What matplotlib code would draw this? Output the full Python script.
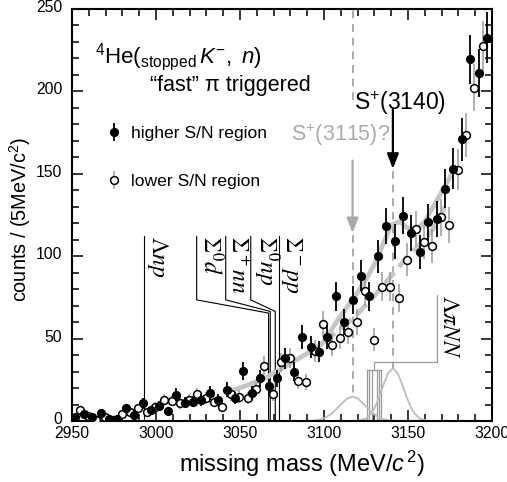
import matplotlib
matplotlib.use("Agg")
import matplotlib.pyplot as plt
import matplotlib.transforms as mtransforms
from matplotlib.ticker import MultipleLocator

plt.rcParams['font.family'] = ['Liberation Sans', 'DejaVu Sans']
plt.rcParams['mathtext.fontset'] = 'custom'
plt.rcParams['mathtext.rm'] = 'Liberation Sans'
plt.rcParams['mathtext.it'] = 'Liberation Sans:italic'
plt.rcParams['mathtext.bf'] = 'Liberation Sans:bold'

# ---------------- data ----------------
mass_hi = [2952, 2957, 2962, 2967, 2972, 2977, 2982, 2987, 2992, 2997,
           3002, 3007, 3012, 3017, 3022, 3027, 3032, 3037, 3042, 3047,
           3052, 3057, 3062, 3067, 3072, 3077, 3082, 3087, 3092, 3097,
           3102, 3107, 3112, 3117, 3122, 3127, 3132, 3137, 3142, 3147,
           3152, 3157, 3162, 3167, 3172, 3177, 3182, 3187, 3192, 3197]
counts_hi = [2.6, 4, 2.4, 5, 1, 1, 7.7, 3.6, 10.7, 6.7,
             9, 6, 16, 11, 11.7, 12.8, 17, 12.8, 19, 14,
             30.4, 17, 26, 21, 26, 38, 30, 51, 45, 42,
             51, 75.6, 60, 73.6, 88, 75.6, 100, 118.5, 109, 124.6,
             114, 102.5, 120.5, 122.6, 141, 153, 171, 219.5, 211, 232.6]
err_hi = [1.6, 2.0, 1.5, 2.2, 1.0, 1.0, 2.8, 1.9, 3.3, 2.6,
          3.0, 2.4, 4.0, 3.3, 3.4, 3.6, 4.1, 3.6, 4.4, 3.7,
          5.5, 4.1, 5.1, 4.6, 5.1, 6.2, 5.5, 7.1, 6.7, 6.5,
          7.1, 8.7, 7.7, 8.6, 9.4, 8.7, 10.0, 10.9, 10.4, 11.2,
          10.7, 10.1, 11.0, 11.1, 11.9, 12.4, 13.1, 14.8, 14.5, 15.3]

mass_lo = [2954.5, 2959.5, 2964.5, 2969.5, 2974.5, 2979.5, 2984.5, 2989.5, 2994.5, 2999.5,
           3004.5, 3009.5, 3014.5, 3019.5, 3024.5, 3029.5, 3034.5, 3039.5, 3044.5, 3049.5,
           3054.5, 3059.5, 3064.5, 3069.5, 3074.5, 3079.5, 3084.5, 3089.5, 3094.5, 3099.5,
           3104.5, 3109.5, 3114.5, 3119.5, 3124.5, 3129.5, 3134.5, 3139.5, 3144.5, 3149.5,
           3154.5, 3159.5, 3164.5, 3169.5, 3174.5, 3179.5, 3184.5, 3189.5, 3194.5]
counts_lo = [6.7, 3, 0.6, 2.6, 0.5, 4, 5.6, 7.7, 5.6, 8.7,
             12.8, 12.3, 10.8, 12.8, 16.2, 13.8, 11.7, 8.7, 16.2, 14.8,
             13.8, 19.5, 33.6, 16.2, 35.5, 38.1, 24.3, 23.9, 42.5, 58.8,
             46.2, 50.6, 53.9, 60.2, 78.6, 49.2, 81.6, 81.6, 74.5, 97.9,
             116.5, 108.4, 106.4, 123.6, 119.1, 152.6, 173.4, 202.2, 227.5]
err_lo = [2.6, 1.7, 0.8, 1.6, 0.7, 2.0, 2.4, 2.8, 2.4, 2.9,
          3.6, 3.5, 3.3, 3.6, 4.0, 3.7, 3.4, 2.9, 4.0, 3.8,
          3.7, 4.4, 5.8, 4.0, 6.0, 6.2, 4.9, 4.9, 6.5, 7.7,
          6.8, 7.1, 7.3, 7.8, 8.9, 7.0, 9.0, 9.0, 8.6, 9.9,
          10.8, 10.4, 10.3, 11.1, 10.9, 12.4, 13.2, 14.2, 15.1]

# fit curves
fit_hi_x = [3044, 3055, 3065, 3075, 3085, 3095, 3100, 3108, 3115, 3120, 3125, 3130,
            3135, 3140, 3145, 3150, 3155, 3160, 3165, 3170, 3175, 3178]
fit_hi_y = [18, 22, 26, 32, 38, 44, 48, 61, 71, 78, 86, 95,
            107, 119, 121, 117, 116, 121, 130, 139, 148, 154]
fit_lo_x = [3100, 3110, 3120, 3130, 3140, 3150, 3160, 3166, 3172]
fit_lo_y = [48, 56, 65, 76, 88, 100, 110, 118, 130]

# peak components
g1_x = [3092, 3095, 3100, 3105, 3110, 3114, 3117, 3120, 3125, 3130, 3135, 3140, 3143]
g1_y = [0.1, 0.4, 1.6, 4.8, 10.1, 13.8, 14.8, 13.8, 9.0, 3.9, 1.2, 0.3, 0.1]
g2_x = [3120, 3125, 3128, 3130, 3133, 3135, 3138, 3141, 3144, 3147, 3149, 3152, 3154, 3157, 3162]
g2_y = [0.1, 1.5, 4.5, 7.6, 15.0, 20.9, 28.8, 32.0, 28.8, 20.9, 15.0, 7.6, 4.5, 1.5, 0.1]

# thresholds
thr_labels = [r'$\Sigma^0d$', r'$\Sigma^+nn$', r'$\Sigma^0np$', r'$\Sigma^-pp$']
thr_mass = [3067, 3068, 3071, 3073]
thr_label_x = [3024.2, 3041.5, 3056.4, 3073]
lnp_mass = 2993
lpinn_mass = [3125.5, 3126.8, 3128.5, 3131.5, 3132.8, 3134.2]
peak_mass = [3117, 3141]

# ---------------- figure ----------------
fig = plt.figure(figsize=(5.07, 4.82), dpi=100)
ax = fig.add_axes([72/507, 1-421/482, 420/507, 412/482])
ax.set_xlim(2950, 3200)
ax.set_ylim(0, 250)

gray_c = '#c6c6c6'
# fit curves
ax.plot(fit_hi_x, fit_hi_y, color=gray_c, lw=3.4, solid_capstyle='round', zorder=2)
ax.plot(fit_lo_x, fit_lo_y, color=gray_c, lw=3.4, ls=(0, (3, 1.5)), zorder=2)
# gaussians
ax.plot(g1_x, g1_y, color='#bdbdbd', lw=1.3, zorder=2)
ax.plot(g2_x, g2_y, color='#bdbdbd', lw=1.3, zorder=2)

# vertical dashed lines
dash = (0, (4, 3))
ax.plot([peak_mass[0]]*2, [195, 250], color='#aaaaaa', lw=1.4, ls=dash, zorder=1)
ax.plot([peak_mass[0]]*2, [113, 15], color='#aaaaaa', lw=1.4, ls=dash, zorder=1)
ax.plot([peak_mass[1]]*2, [152, 32], color='#aaaaaa', lw=1.4, ls=dash, zorder=1)

# arrows
ax.annotate('', xy=(peak_mass[1], 153), xytext=(peak_mass[1], 189),
            arrowprops=dict(arrowstyle='-|>,head_length=0.9,head_width=0.35',
                            color='black', lw=1.6, shrinkA=0, shrinkB=0))
ax.annotate('', xy=(peak_mass[0], 114), xytext=(peak_mass[0], 158),
            arrowprops=dict(arrowstyle='-|>,head_length=0.9,head_width=0.35',
                            color='#aaaaaa', lw=1.6, shrinkA=0, shrinkB=0))
ax.text(3145, 193, r'S$^{+}$(3140)', fontsize=16.5, ha='center', va='center', color='black')
ax.text(3110, 173.5, r'S$^{+}$(3115)?', fontsize=15.5, ha='center', va='center', color='#aaaaaa')

# threshold lines
tfs = 17
tl = dict(color='black', lw=0.8, zorder=1)
ax.plot([lnp_mass, lnp_mass], [0, 112], **tl)
ax.text(lnp_mass + 0.4, 112, r'$\Lambda np$', rotation=-90, ha='left', va='top',
        fontsize=tfs, math_fontfamily='stix')
elbow_y = [73.5, 73.5, 73.5, None]
end_y = [65.5, 66.5, 66.5, None]
for lab, tm, lx, ey, en in zip(thr_labels, thr_mass, thr_label_x, elbow_y, end_y):
    if ey is None:
        ax.plot([tm, tm], [0, 112], **tl)
    else:
        ax.plot([lx, lx, tm, tm], [112, ey, en, 0], **tl)
    ax.text(lx + 0.4, 112, lab, rotation=-90, ha='left', va='top',
            fontsize=tfs, math_fontfamily='stix')

# Lambda pi N N thresholds box
bc = dict(color='#9a9a9a', lw=0.9, zorder=1)
for m in lpinn_mass:
    ax.plot([m, m], [0, 31], **bc)
ax.plot([lpinn_mass[0], lpinn_mass[-1]], [31, 31], **bc)
ax.plot([3129.5, 3129.5, 3167.1, 3167.1], [31, 35.7, 35.7, 76.6], **bc)
ax.text(3167.6, 76.6, r'$\Lambda\pi NN$', rotation=-90, ha='left', va='top',
        fontsize=tfs, math_fontfamily='stix')

# data
eb_hi = ax.errorbar(mass_hi, counts_hi, yerr=err_hi, fmt='o', ms=5.6, mfc='black',
                    mec='black', ecolor='black', elinewidth=1.3, capsize=0, zorder=5,
                    label='higher S/N region')
eb_lo = ax.errorbar(mass_lo, counts_lo, yerr=err_lo, fmt='o', ms=5.6, mfc='white',
                    mec='black', mew=1.1, ecolor='#9a9a9a', elinewidth=1.1, capsize=0,
                    zorder=4, label='lower S/N region')

ax.legend(handles=[eb_hi, eb_lo], loc='upper left', bbox_to_anchor=(0.079, 0.716),
          frameon=False, fontsize=12.6, handlelength=1.0, handletextpad=0.47,
          labelspacing=1.85, borderpad=0, borderaxespad=0)

# titles
ax.text(0.055, 0.883, r'$^4$He($_{\rm stopped}$$\,K^{-}$, $\,n$)', transform=ax.transAxes,
        fontsize=16, ha='left', va='center')
ax.text(0.186, 0.815, '\u201cfast\u201d \u03c0 triggered', transform=ax.transAxes,
        fontsize=15.5, ha='left', va='center')

# axes styling
ax.xaxis.set_major_locator(MultipleLocator(50))
ax.xaxis.set_minor_locator(MultipleLocator(10))
ax.yaxis.set_major_locator(MultipleLocator(50))
ax.yaxis.set_minor_locator(MultipleLocator(10))
ax.tick_params(which='both', direction='in', top=True, right=True, width=1.1)
ax.tick_params(which='major', length=8, labelsize=11.3)
ax.tick_params(axis='x', which='major', pad=3.5)
ax.tick_params(axis='y', which='major', pad=7)
ax.tick_params(which='minor', length=5)
for s in ax.spines.values():
    s.set_linewidth(1.5)

# lift y tick labels slightly (as in the reference, "0" sits just above the axis)
lift = mtransforms.ScaledTranslation(0, 3/100, fig.dpi_scale_trans)
for lbl in ax.get_yticklabels():
    lbl.set_transform(lbl.get_transform() + lift)

ax.set_xlabel(r'missing mass (MeV/$c^{\,2}$)', fontsize=17)
ax.set_ylabel(r'counts / (5MeV/c$^2$)', fontsize=14.3)
ax.xaxis.set_label_coords(0.548, -0.068)
ax.yaxis.set_label_coords(-0.092, 0.488)

fig.savefig('out.png', dpi=100)
